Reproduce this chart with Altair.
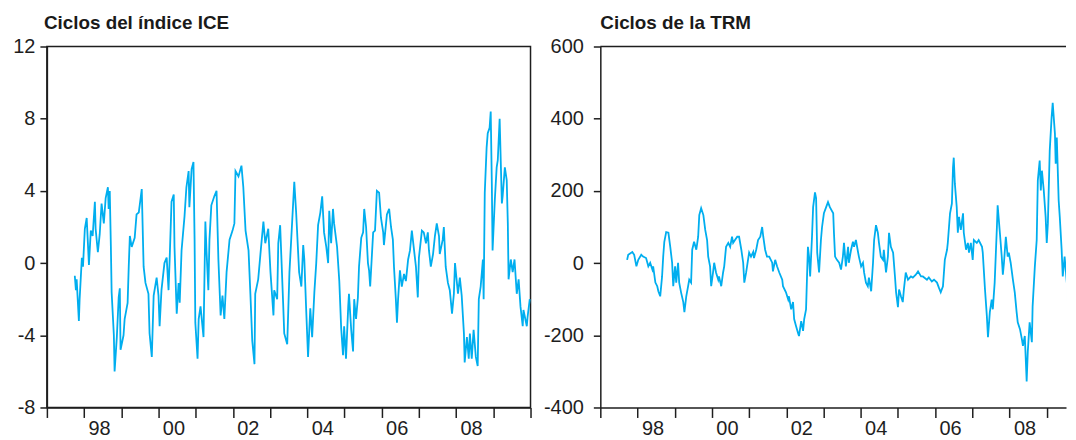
import altair as alt
import pandas as pd

# ---------------- data ----------------
ice_years = [
    1997.75, 1997.78, 1997.80, 1997.86, 1997.88, 1997.94, 1997.97, 1998.02, 1998.07, 1998.13,
    1998.18, 1998.23, 1998.29, 1998.31, 1998.37, 1998.42, 1998.47, 1998.53, 1998.58, 1998.64,
    1998.66, 1998.69, 1998.72, 1998.74, 1998.80, 1998.82, 1998.88, 1998.93, 1998.96, 1998.98,
    1999.06, 1999.09, 1999.17, 1999.20, 1999.23, 1999.28, 1999.36, 1999.41, 1999.47, 1999.55,
    1999.60, 1999.65, 1999.73, 1999.76, 1999.82, 1999.87, 1999.95, 2000.00, 2000.03, 2000.08,
    2000.16, 2000.22, 2000.27, 2000.30, 2000.35, 2000.41, 2000.43, 2000.49, 2000.54, 2000.57,
    2000.62, 2000.70, 2000.75, 2000.81, 2000.83, 2000.89, 2000.94, 2000.97, 2000.99, 2001.05,
    2001.08, 2001.13, 2001.21, 2001.26, 2001.29, 2001.34, 2001.37, 2001.42, 2001.50, 2001.56,
    2001.61, 2001.67, 2001.72, 2001.77, 2001.83, 2001.91, 2001.99, 2002.04, 2002.07, 2002.15,
    2002.23, 2002.28, 2002.34, 2002.42, 2002.47, 2002.52, 2002.58, 2002.60, 2002.68, 2002.74,
    2002.82, 2002.87, 2002.95, 2003.01, 2003.09, 2003.11, 2003.19, 2003.22, 2003.27, 2003.35,
    2003.38, 2003.46, 2003.52, 2003.57, 2003.65, 2003.70, 2003.78, 2003.84, 2003.89, 2003.92,
    2003.97, 2004.02, 2004.08, 2004.13, 2004.19, 2004.24, 2004.29, 2004.35, 2004.40, 2004.45,
    2004.51, 2004.56, 2004.59, 2004.64, 2004.69, 2004.72, 2004.80, 2004.86, 2004.91, 2004.96,
    2004.99, 2005.04, 2005.10, 2005.12, 2005.18, 2005.23, 2005.26, 2005.31, 2005.36, 2005.39,
    2005.45, 2005.50, 2005.53, 2005.58, 2005.63, 2005.66, 2005.69, 2005.77, 2005.82, 2005.87,
    2005.93, 2005.98, 2006.04, 2006.06, 2006.14, 2006.20, 2006.25, 2006.30, 2006.33, 2006.38,
    2006.41, 2006.44, 2006.49, 2006.54, 2006.60, 2006.65, 2006.71, 2006.76, 2006.81, 2006.87,
    2006.92, 2006.97, 2007.00, 2007.08, 2007.13, 2007.19, 2007.24, 2007.27, 2007.32, 2007.38,
    2007.43, 2007.48, 2007.54, 2007.56, 2007.64, 2007.67, 2007.72, 2007.78, 2007.83, 2007.89,
    2007.94, 2007.97, 2008.05, 2008.10, 2008.15, 2008.21, 2008.23, 2008.29, 2008.34, 2008.37,
    2008.42, 2008.47, 2008.53, 2008.58, 2008.61, 2008.66, 2008.72, 2008.74, 2008.77, 2008.82,
    2008.85, 2008.90, 2008.93, 2008.96, 2008.98, 2009.04, 2009.09, 2009.12, 2009.17, 2009.23,
    2009.25, 2009.31, 2009.36, 2009.39, 2009.41, 2009.47, 2009.52, 2009.57, 2009.63, 2009.68,
    2009.73, 2009.79, 2009.81, 2009.90, 2009.92, 2009.98,
]
ice_values = [
    -0.7, -1.5, -0.9, -3.2, -2.0, 0.3, -0.2, 1.9, 2.5, -0.1,
    1.8, 1.5, 3.4, 1.9, 0.6, 1.6, 3.3, 2.2, 3.6, 4.2,
    3.0, 4.0, 0.9, -1.6, -4.0, -6.0, -4.1, -1.9, -1.4, -4.8,
    -4.0, -3.1, -2.2, -0.2, 1.5, 0.9, 1.4, 2.7, 2.8, 4.1,
    -0.2, -1.1, -1.7, -3.9, -5.2, -1.8, -0.8, -1.8, -3.5, -1.5,
    0.0, 0.3, -1.5, 0.2, 3.4, 3.8, 0.9, -2.8, -1.1, -2.2,
    0.7, 2.6, 4.2, 5.1, 3.1, 5.2, 5.6, 1.3, -3.3, -5.3,
    -3.1, -2.4, -4.1, 2.3, 0.7, -1.5, 1.3, 3.2, 3.7, 4.0,
    0.2, -2.9, -1.8, -3.1, -0.5, 1.3, 1.8, 2.2, 5.1, 4.8,
    5.4, 4.2, 1.8, 0.7, -1.7, -4.3, -5.6, -1.7, -0.9, 0.5,
    2.3, 1.1, 1.9, -0.5, -2.9, -1.5, -2.0, 1.1, 2.1, -2.2,
    -3.9, -4.5, -0.5, 1.4, 4.5, 2.8, -0.5, -1.3, 1.0, 0.2,
    -2.6, -5.2, -2.5, -4.1, -1.6, 0.0, 2.1, 2.8, 3.7, 1.7,
    0.9, 0.0, 2.9, 1.1, 3.0, 2.2, 0.9, -1.0, -3.6, -5.1,
    -3.5, -5.3, -2.4, -1.7, -3.7, -4.9, -2.0, -3.1, -1.9, -0.2,
    1.4, 1.7, 3.0, 2.0, 0.0, -0.4, -1.3, 1.7, 1.8, 4.0,
    3.9, 2.5, 1.7, 1.0, 2.7, 3.0, 2.0, 1.3, -0.2, -2.0,
    -3.3, -2.0, -0.4, -1.3, -0.6, -1.0, 0.2, 0.7, 1.8, 0.7,
    -0.2, -1.9, 0.3, 1.8, 1.7, 1.1, 1.7, 0.7, -0.2, 0.5,
    1.5, 2.2, 1.5, 0.5, 1.3, 2.0, -0.2, -1.1, -1.5, -2.8,
    -1.7, 0.0, -1.7, -0.8, -1.8, -3.9, -5.5, -4.1, -5.3, -3.9,
    -5.3, -3.7, -5.2, -5.7, -2.0, -1.3, 0.2, -2.0, 3.9, 6.4,
    7.2, 7.5, 8.4, 4.4, 0.7, 3.5, 5.3, 5.7, 8.0, 3.3,
    3.7, 5.3, 4.6, 2.2, -0.9, 0.2, -0.5, 0.2, -1.7, -0.9,
    -2.4, -3.5, -2.6, -3.5, -3.0, -2.0,
]

trm_years = [
    1997.72, 1997.75, 1997.86, 1997.91, 1997.97, 1998.02, 1998.10, 1998.15, 1998.23, 1998.29,
    1998.34, 1998.40, 1998.42, 1998.48, 1998.53, 1998.56, 1998.61, 1998.66, 1998.69, 1998.72,
    1998.77, 1998.83, 1998.88, 1998.93, 1998.96, 1999.01, 1999.04, 1999.09, 1999.12, 1999.17,
    1999.23, 1999.26, 1999.31, 1999.36, 1999.39, 1999.44, 1999.47, 1999.52, 1999.58, 1999.63,
    1999.66, 1999.71, 1999.77, 1999.82, 1999.87, 1999.90, 1999.95, 1999.98, 2000.03, 2000.06,
    2000.11, 2000.17, 2000.19, 2000.25, 2000.30, 2000.33, 2000.38, 2000.44, 2000.49, 2000.54,
    2000.57, 2000.62, 2000.68, 2000.73, 2000.79, 2000.84, 2000.87, 2000.92, 2000.97, 2001.00,
    2001.05, 2001.11, 2001.13, 2001.19, 2001.24, 2001.30, 2001.35, 2001.38, 2001.43, 2001.48,
    2001.54, 2001.62, 2001.64, 2001.70, 2001.75, 2001.81, 2001.89, 2001.91, 2001.99, 2002.05,
    2002.07, 2002.13, 2002.18, 2002.21, 2002.26, 2002.32, 2002.34, 2002.40, 2002.45, 2002.48,
    2002.53, 2002.58, 2002.61, 2002.64, 2002.69, 2002.72, 2002.77, 2002.80, 2002.83, 2002.88,
    2002.93, 2002.96, 2003.01, 2003.07, 2003.12, 2003.17, 2003.26, 2003.28, 2003.31, 2003.36,
    2003.42, 2003.47, 2003.52, 2003.55, 2003.60, 2003.66, 2003.68, 2003.74, 2003.79, 2003.82,
    2003.87, 2003.93, 2003.95, 2004.01, 2004.06, 2004.09, 2004.14, 2004.19, 2004.22, 2004.28,
    2004.33, 2004.36, 2004.41, 2004.46, 2004.49, 2004.54, 2004.60, 2004.62, 2004.68, 2004.73,
    2004.76, 2004.81, 2004.87, 2004.92, 2004.95, 2005.00, 2005.03, 2005.08, 2005.13, 2005.16,
    2005.21, 2005.27, 2005.35, 2005.40, 2005.48, 2005.54, 2005.62, 2005.67, 2005.78, 2005.83,
    2005.91, 2005.97, 2006.05, 2006.10, 2006.15, 2006.21, 2006.26, 2006.32, 2006.34, 2006.40,
    2006.45, 2006.48, 2006.50, 2006.53, 2006.58, 2006.61, 2006.64, 2006.69, 2006.75, 2006.77,
    2006.83, 2006.88, 2006.91, 2006.96, 2007.01, 2007.04, 2007.12, 2007.17, 2007.26, 2007.28,
    2007.34, 2007.39, 2007.42, 2007.47, 2007.52, 2007.55, 2007.60, 2007.66, 2007.68, 2007.74,
    2007.79, 2007.82, 2007.85, 2007.90, 2007.95, 2007.98, 2008.03, 2008.09, 2008.14, 2008.19,
    2008.22, 2008.28, 2008.33, 2008.36, 2008.41, 2008.46, 2008.49, 2008.54, 2008.60, 2008.62,
    2008.68, 2008.73, 2008.76, 2008.81, 2008.84, 2008.87, 2008.92, 2008.97, 2009.00, 2009.03,
    2009.08, 2009.13, 2009.16, 2009.22, 2009.24, 2009.27, 2009.32, 2009.35, 2009.40, 2009.43,
    2009.48, 2009.54, 2009.56, 2009.62, 2009.67, 2009.70, 2009.75, 2009.78,
]
trm_values = [
    9, 23, 31, 23, -9, 9, 23, 18, 14, -9,
    1, -18, -9, -54, -64, -78, -92, -37, 18, 59,
    86, 84, 45, 1, -64, -9, -54, 1, -54, -81,
    -108, -136, -92, -64, -46, -54, 37, 59, 37, 73,
    133, 152, 133, 92, 64, 18, -9, -64, -26, 1,
    -26, -46, -37, -64, -26, -9, 45, 56, 45, 73,
    56, 64, 73, 73, 37, 1, -54, -26, 9, 29,
    18, 31, 14, 37, 64, 73, 100, 73, 37, 18,
    18, 1, -23, 9, -9, -26, -46, -64, -81, -101,
    -92, -128, -108, -155, -174, -196, -202, -161, -188, -155,
    -128, 45, 18, -37, 73, 155, 196, 180, 29, -26,
    64, 100, 138, 155, 169, 155, 138, 84, 18, 9,
    1, -18, 18, 56, -9, 45, 1, 37, 59, 45,
    64, 29, 18, -9, 1, -26, -54, -64, -40, -78,
    1, 64, 105, 84, 56, 18, 9, 37, -26, 18,
    84, 45, 29, -37, -81, -122, -73, -92, -108, -73,
    -26, -46, -37, -40, -32, -23, -37, -37, -46, -40,
    -51, -46, -54, -68, -81, -64, 9, 37, 56, 138,
    165, 265, 292, 220, 155, 84, 128, 92, 138, 84,
    37, 56, 29, 56, 9, 64, 56, 64, 45, 29,
    -73, -147, -205, -136, -101, -128, -54, 100, 160, 84,
    18, -32, 1, 73, 18, 29, 1, -46, -81, -136,
    -164, -183, -210, -229, -202, -328, -246, -164, -219, -120,
    -9, 64, 229, 284, 201, 256, 201, 128, 56, 110,
    311, 403, 444, 358, 275, 348, 174, 128, 37, -37,
    18, -54, -120, -73, -108, -92, -164, -238,
]

ice_year_ticks = list(range(1997, 2011))
trm_year_ticks = list(range(1997, 2010))
ice_ticks = [-8, -4, 0, 4, 8, 12]
trm_ticks = [-400, -200, 0, 200, 400, 600]
titles = ["Ciclos del índice ICE", "Ciclos de la TRM"]

# ---------------- style ----------------
LINE = "#00AEEF"
INK = "#1e1e1e"
FONT = "Liberation Sans"
W_LEFT, W_RIGHT, H = 485, 467, 362
PX_PER_YEAR = W_LEFT / 13.0
TRM_END = 1997 + W_RIGHT / PX_PER_YEAR

n1 = min(len(ice_years), len(ice_values))
n2 = min(len(trm_years), len(trm_values))
ice_df = pd.DataFrame({"year": ice_years[:n1], "value": ice_values[:n1]})
trm_df = pd.DataFrame({"year": trm_years[:n2], "value": trm_values[:n2]})

X_LABEL_EXPR = ("datum.value % 2 == 0 && datum.value < 2010 ? "
                "substring(toString(datum.value), 2, 4) : ''")
Y_LABEL_EXPR = "toString(datum.value)"


def x_axis(values):
    return alt.Axis(values=values, title=None, grid=False, tickSize=10,
                    labelOffset=15, labelPadding=1, labelExpr=X_LABEL_EXPR,
                    labelOverlap=False, labelFlush=False, labelFontSize=20,
                    labelFont=FONT, labelColor=INK, domainColor=INK, tickColor=INK,
                    domainWidth=1.5, tickWidth=1.5)


def y_axis(ticks, pad):
    return alt.Axis(values=ticks, title=None, grid=False, tickSize=7,
                    labelPadding=pad, labelFontSize=20, labelFont=FONT,
                    labelExpr=Y_LABEL_EXPR,
                    labelColor=INK, domainColor=INK, tickColor=INK,
                    domainWidth=1.5, tickWidth=1.5)


def title(text, dx):
    return alt.TitleParams(text=text, anchor="start", frame="group", fontSize=18.9,
                           fontWeight="bold", font=FONT, color="#1a1a1a",
                           dx=dx, offset=4)


left = alt.Chart(ice_df).mark_line(color=LINE, strokeWidth=1.8).encode(
    x=alt.X("year:Q", scale=alt.Scale(domain=[1997, 2010], nice=False, zero=False),
            axis=x_axis(ice_year_ticks)),
    y=alt.Y("value:Q", scale=alt.Scale(domain=[-8, 12], nice=False, zero=False),
            axis=y_axis(ice_ticks, 5)),
).properties(
    width=W_LEFT, height=H, title=title(titles[0], -3),
    view=alt.ViewBackground(stroke=INK, strokeWidth=1.5),
)

right_line = alt.Chart(trm_df).mark_line(color=LINE, strokeWidth=1.8, clip=True).encode(
    x=alt.X("year:Q", scale=alt.Scale(domain=[1997, TRM_END], nice=False, zero=False),
            axis=x_axis(trm_year_ticks)),
    y=alt.Y("value:Q", scale=alt.Scale(domain=[-400, 600], nice=False, zero=False),
            axis=y_axis(trm_ticks, 10)),
)
top_rule = alt.Chart(pd.DataFrame({"k": [0]})).mark_rule(color=INK, strokeWidth=1.5).encode(
    x=alt.value(0), x2=alt.value(W_RIGHT), y=alt.value(0)
)
right = alt.layer(right_line, top_rule).properties(
    width=W_RIGHT, height=H, title=title(titles[1], 0),
    view=alt.ViewBackground(stroke="transparent"),
)

chart = alt.hconcat(left, right, spacing=70, bounds="flush").properties(
    padding={"left": 4, "top": 4, "right": 0, "bottom": 0}
).configure(background="white")

chart.save("out.html", embed_options={"renderer": "svg", "actions": False})
